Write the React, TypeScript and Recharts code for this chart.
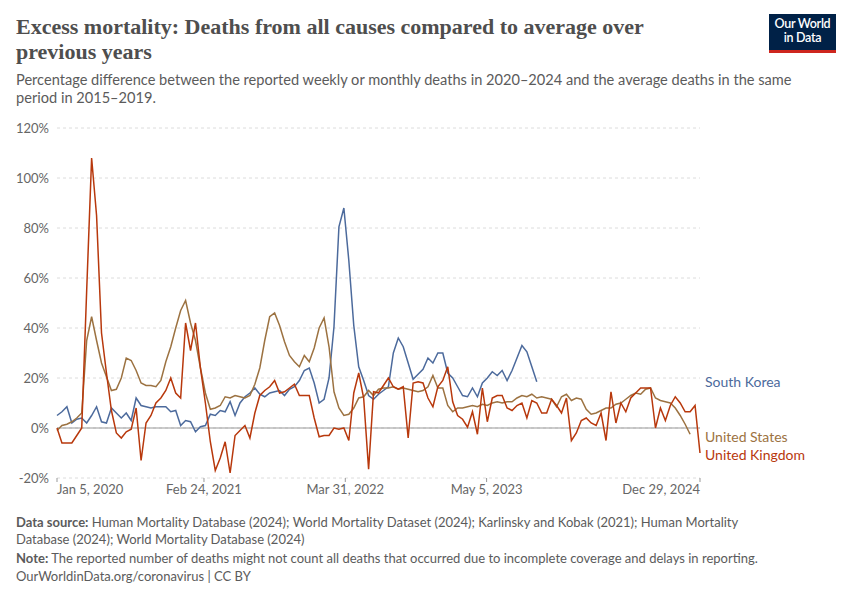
import { LineChart, Line, XAxis, YAxis, CartesianGrid, ReferenceLine } from "recharts";

// Weekly series sampled every other week, starting Jan 5, 2020
const stepDays = 14;

const ukValues = [
  0, -6, -6, -6, -3, 0, 55, 108, 85, 38, 22, 7, -2, -4, -1.5, -0.5, 8, -13, 2, 5,
  10, 12, 15, 20, 14, 12, 42, 31, 42, 24, 10, -5.5, -17, -12, -5.5, -18, -3, -1, 1, -4,
  6, 13, 15, 16.5, 19, 14, 14.5, 16, 17.5, 13, 13, 13, 4, -3.5, -3, -3, 0, -0.5, 0, -5,
  14, 22, 12, -16.5, 14.5, 14, 17, 20, 16.5, 15.5, 16.5, -4, 18, 18.5, 18, 12, 8.5, 16.5, 19, 24.5,
  10.5, 5, 3.5, 0.3, 6.5, -2.5, 16, 2.5, 12, 13, 13, 8, 7, 9, 10, 4, 11, 10, 6, 6,
  11.5, 9, 6, 12, -5, -2, 3, 4, 2, 1, 6, -5, 14.5, 2, 10, 6.5, 12, 14, 16, 16,
  16, 0, 8, 3, 9, 12.5, 10, 6.5, 6.5, 9, -10,
];

const usValues = [
  -1, 1, 1.5, 2.5, 4, 6, 35, 44.5, 35, 26, 20.5, 15, 15.5, 20, 28, 27, 23, 18, 17, 17,
  16.5, 19, 26.5, 32.5, 40, 47, 51, 42, 35, 24, 14, 7.5, 8, 9, 12.5, 12, 13, 12.5, 12, 13,
  17.5, 24, 35, 44.5, 46, 41, 34.5, 29, 26.5, 24.5, 29, 26.5, 32, 40, 44, 32.5, 14.5, 8, 5, 5.5,
  8, 12, 12.5, 15, 13, 15.5, 16, 16, 16.5, 15.5, 16, 15.5, 15, 14.5, 15, 16.5, 21, 16, 16, 9,
  6.5, 8, 8, 8.5, 9, 8.5, 9.5, 9, 10, 10.5, 10, 10.5, 10.5, 12, 13, 12.5, 13.5, 12, 12.5, 12,
  11.5, 8.5, 12.5, 13.5, 11, 12, 11.5, 7.5, 5.5, 6, 7, 8, 8, 9.5, 10, 11.5, 13, 14, 13.5, 15.5,
  16, 12, 11, 10.5, 10, 8, 5, 1.5, -2.5,
];

const krValues = [
  5, 6.5, 8.5, 2, 3.5, 4, 2, 5, 8.5, 2.5, 2, 8, 6, 4, 6, 3, 12, 9, 8.5, 8,
  8.5, 8.5, 8.5, 6.5, 7, 1, 3, 2.5, -1.5, 0.5, 1, 5.5, 5, 7, 6.5, 10.5, 5, 10, 12.5, 14,
  16, 13.5, 12.5, 14, 14.5, 15, 13, 15.5, 16.5, 19, 23, 24, 18, 10, 11.5, 20, 40.5, 80.5, 88, 67,
  41, 24.5, 19, 13, 11.5, 13.5, 15, 16.5, 30, 36, 32.5, 26, 19.5, 21.5, 23.5, 28, 26, 30, 30, 22,
  20, 16.5, 13, 12.5, 16, 12.5, 18, 20, 22.5, 21, 23, 19, 23, 28, 33, 30.5, 24.5, 18.5,
];

const tickDays = [0, 416, 816, 1216, 1820];
const tickLabels = ["Jan 5, 2020", "Feb 24, 2021", "Mar 31, 2022", "May 5, 2023", "Dec 29, 2024"];
const yTicks = [-20, 0, 20, 40, 60, 80, 100, 120];

const colors = { kr: "#4c6a9c", us: "#9c7241", uk: "#b8380c" };

const rows = ukValues.map((v, i) => ({
  day: i * stepDays,
  uk: v,
  us: i < usValues.length ? usValues[i] : null,
  kr: i < krValues.length ? krValues[i] : null,
}));

const font = "Lato, 'Noto Sans', sans-serif";

function XTick(props: any) {
  const { x, y, payload, index } = props;
  const anchor = index === 0 ? "start" : index === tickDays.length - 1 ? "end" : "middle";
  const label = tickLabels[tickDays.indexOf(payload.value)];
  return (
    <text x={x} y={y + 10} textAnchor={anchor} fill="#666" fontSize={13} fontFamily={font}>
      {label}
    </text>
  );
}

export default function App() {
  return (
    <div style={{ position: "absolute", left: 0, top: 0, width: 850, height: 600, background: "#fff", fontFamily: font }}>
      <div style={{ position: "absolute", left: 16, top: 14, width: 700, fontFamily: "'Liberation Serif', serif", fontWeight: 700, fontSize: 22, lineHeight: "25px", color: "#4e4e4e" }}>
        Excess mortality: Deaths from all causes compared to average over previous years
      </div>
      <div style={{ position: "absolute", left: 16, top: 71, width: 800, fontSize: 14.6, lineHeight: "18px", color: "#5b5b5b" }}>
        Percentage difference between the reported weekly or monthly deaths in 2020–2024 and the average deaths in the same period in 2015–2019.
      </div>
      <div style={{ position: "absolute", left: 769, top: 14, width: 67, height: 33, background: "#002147", borderBottom: "3px solid #ce261e", color: "#fff", fontSize: 12.5, lineHeight: "14px", textAlign: "center", paddingTop: 3, boxSizing: "content-box", fontWeight: 600, letterSpacing: -0.3 }}>
        Our World<br />in Data
      </div>

      <div style={{ position: "absolute", left: 0, top: 0 }}>
        <LineChart width={850} height={600} data={rows} margin={{ top: 128, right: 150, bottom: 92, left: 7 }}>
          <CartesianGrid vertical={false} strokeDasharray="3 3" stroke="#dcdcdc" />
          <XAxis
            dataKey="day"
            type="number"
            domain={[0, 1820]}
            ticks={tickDays}
            tick={<XTick />}
            axisLine={false}
            tickLine={{ stroke: "#999" }}
            tickSize={4}
            height={30}
            interval={0}
          />
          <YAxis
            domain={[-20, 120]}
            ticks={yTicks}
            tickFormatter={(v) => `${v}%`}
            axisLine={false}
            tickLine={false}
            width={50}
            tick={{ fill: "#666", fontSize: 13, fontFamily: font }}
            interval={0}
          />
          <ReferenceLine y={0} stroke="#999" strokeWidth={1} />
          <Line dataKey="kr" stroke={colors.kr} strokeWidth={1.5} dot={false} isAnimationActive={false} connectNulls={false} />
          <Line dataKey="us" stroke={colors.us} strokeWidth={1.5} dot={false} isAnimationActive={false} connectNulls={false} />
          <Line dataKey="uk" stroke={colors.uk} strokeWidth={1.5} dot={false} isAnimationActive={false} />
        </LineChart>
      </div>

      <div style={{ position: "absolute", left: 705, top: 373, fontSize: 14, color: colors.kr }}>South Korea</div>
      <div style={{ position: "absolute", left: 705, top: 428, fontSize: 14, color: colors.us }}>United States</div>
      <div style={{ position: "absolute", left: 705, top: 446, fontSize: 14, color: colors.uk }}>United Kingdom</div>

      <div style={{ position: "absolute", left: 16, top: 514, width: 760, fontSize: 13, lineHeight: "17px", color: "#5b5b5b" }}>
        <b>Data source:</b> Human Mortality Database (2024); World Mortality Dataset (2024); Karlinsky and Kobak (2021); Human Mortality Database (2024); World Mortality Database (2024)
      </div>
      <div style={{ position: "absolute", left: 16, top: 550, width: 820, fontSize: 13, lineHeight: "17px", color: "#5b5b5b" }}>
        <b>Note:</b> The reported number of deaths might not count all deaths that occurred due to incomplete coverage and delays in reporting.
      </div>
      <div style={{ position: "absolute", left: 16, top: 568, fontSize: 13, lineHeight: "17px", color: "#5b5b5b" }}>
        OurWorldinData.org/coronavirus | CC BY
      </div>
    </div>
  );
}
